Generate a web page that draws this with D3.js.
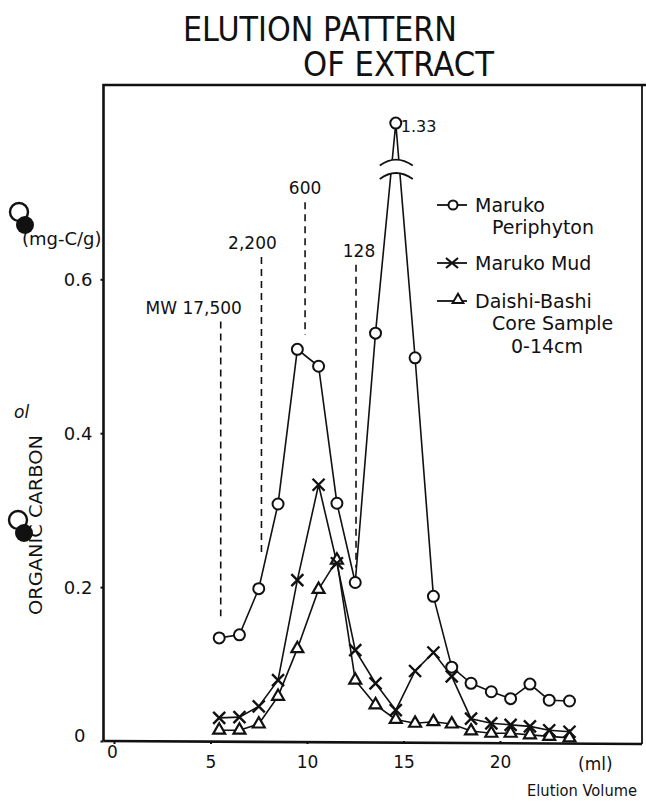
<!DOCTYPE html>
<html><head><meta charset="utf-8">
<script src="https://cdn.jsdelivr.net/npm/d3@7"></script>
<style>
body{margin:0;background:#fff}
svg{display:block;background:#fff}
text{font-family:"DejaVu Sans","Liberation Sans",sans-serif;fill:#111}
</style>
</head><body>
<svg id="chart" width="646" height="805"></svg>
<script>
// ---- data ----
const volumes    = [5.45, 6.5, 7.5, 8.5, 9.5, 10.6, 11.55, 12.5, 13.55, 14.6, 15.6, 16.55, 17.5, 18.5, 19.55, 20.55, 21.55, 22.55, 23.6];
const periphyton = [0.134,0.138,0.198,0.308,0.509,0.487,0.309,0.206,0.530,1.33,0.498,0.188,0.096,0.075,0.064,0.055,0.074,0.053,0.052];
const mud        = [0.030,0.031,0.045,0.079,0.209,0.333,0.231,0.118,0.075,0.040,0.091,0.115,0.084,0.029,0.023,0.021,0.019,0.014,0.012];
const daishi     = [0.014,0.014,0.022,0.058,0.120,0.197,0.235,0.079,0.047,0.028,0.023,0.025,0.022,0.013,0.010,0.010,0.008,0.006,0.004];
const xTicks = [0, 5, 10, 15, 20];
const yTicks = [0, 0.2, 0.4, 0.6];
const yTickLabels = ["0", "0.2", "0.4", "0.6"];
const mwLabels  = ["MW 17,500", "2,200", "600", "128"];
const mwVolumes = [5.53, 7.64, 9.9, 12.54];
const mwTop     = [0.545, 0.629, 0.700, 0.619];
const mwBottom  = [0.162, 0.244, 0.528, 0.225];
const seriesNames = [["Maruko", "Periphyton"], ["Maruko Mud"], ["Daishi-Bashi", "Core Sample", "0-14cm"]];
const peakLabel = "1.33";

// ---- scales ----
const svg = d3.select("#chart");
const x = d3.scaleLinear().domain([0, 20]).range([114, 500]);
const yBase = d3.scaleLinear().domain([0, 0.6]).range([741, 279.3]);
const BREAK_LO = 0.733, BREAK_HI = 1.28, GAP = 0.02;
const y = d3.scaleLinear()
  .domain([0, BREAK_LO, BREAK_HI, 1.5])
  .range([yBase(0), yBase(BREAK_LO), yBase(BREAK_LO + GAP), yBase(BREAK_LO + GAP + 1.5 - BREAK_HI)]);

// ---- title ----
svg.append("text").attr("x", 183).attr("y", 41).attr("font-size", 33)
  .attr("textLength", 274).attr("lengthAdjust", "spacingAndGlyphs").text("ELUTION  PATTERN");
svg.append("text").attr("x", 303).attr("y", 76).attr("font-size", 33)
  .attr("textLength", 191).attr("lengthAdjust", "spacingAndGlyphs").text("OF  EXTRACT");

// ---- frame ----
const L = 103.5, T = 85, R = 642, B = 741;
svg.append("path").attr("d", `M${L},${B} L${L},${T} L646,${T}`).attr("fill", "none").attr("stroke", "#111").attr("stroke-width", 2.6);
svg.append("path").attr("d", `M${R},${T} L${R},${B+3}`).attr("fill", "none").attr("stroke", "#111").attr("stroke-width", 1.8);
svg.append("path").attr("d", `M${L},${B} L${R},${B+3}`).attr("fill", "none").attr("stroke", "#111").attr("stroke-width", 2.6);

// ---- axes ----
const yAxis = d3.axisLeft(yBase).tickValues(yTicks).tickSize(3).tickPadding(8)
  .tickFormat((d, i) => yTickLabels[i]);
const gy = svg.append("g").attr("transform", `translate(${L},0)`).call(yAxis);
gy.select(".domain").remove();
gy.selectAll("line").attr("stroke", "#111").attr("stroke-width", 2);
gy.selectAll("text").attr("font-size", 18).attr("font-family", "DejaVu Sans").attr("fill", "#111")
  .attr("dy", "0.36em");
gy.selectAll("text").filter(d => d === 0).attr("dx", -7).attr("dy", "0.05em");

const xAxis = d3.axisBottom(x).tickValues(xTicks).tickSize(3).tickPadding(12);
const gx = svg.append("g").attr("transform", `translate(0,${B})`).call(xAxis);
gx.select(".domain").remove();
gx.selectAll("line").attr("stroke", "#111").attr("stroke-width", 2);
gx.selectAll("text").attr("font-size", 17).attr("font-family", "DejaVu Sans").attr("fill", "#111");
gx.selectAll("text").filter(d => d === 0).attr("dx", -2).attr("dy", "0.1em");

svg.append("text").attr("x", 578).attr("y", 770).attr("font-size", 17).text("(ml)");
svg.append("text").attr("x", 527).attr("y", 796).attr("font-size", 16)
  .attr("textLength", 110).attr("lengthAdjust", "spacingAndGlyphs").text("Elution Volume");

// y label
svg.append("text").attr("transform", "translate(42,525) rotate(-90)").attr("text-anchor", "middle")
  .attr("font-size", 18).attr("textLength", 180).attr("lengthAdjust", "spacingAndGlyphs").text("ORGANIC CARBON");
svg.append("text").attr("x", 22).attr("y", 245).attr("font-size", 18).text("(mg-C/g)");
svg.append("text").attr("x", 14).attr("y", 418).attr("font-size", 17).attr("font-style", "italic").attr("fill", "#333").text("ol");

// punch-hole marks of the scanned page
[[19, 212, 25, 225], [18, 520, 24, 533]].forEach(p => {
  svg.append("circle").attr("cx", p[0]).attr("cy", p[1]).attr("r", 9).attr("fill", "none").attr("stroke", "#111").attr("stroke-width", 2.4);
  svg.append("circle").attr("cx", p[2]).attr("cy", p[3]).attr("r", 9).attr("fill", "#111");
});

// ---- MW dashed markers ----
const mwDx = [-27, -9, 0, 3];
mwLabels.forEach((lab, i) => {
  const xx = x(mwVolumes[i]);
  svg.append("line").attr("x1", xx).attr("x2", xx).attr("y1", yBase(mwTop[i])).attr("y2", yBase(mwBottom[i]))
    .attr("stroke", "#111").attr("stroke-width", 1.6).attr("stroke-dasharray", "7,5");
  svg.append("text").attr("x", xx + mwDx[i]).attr("y", yBase(mwTop[i]) - 8).attr("text-anchor", "middle")
    .attr("font-size", 17).text(lab);
});

// ---- lines ----
const line = d3.line().x((d, i) => x(volumes[i])).y(d => y(d));
[daishi, mud, periphyton].forEach(s => {
  svg.append("path").datum(s).attr("d", line).attr("fill", "none").attr("stroke", "#111").attr("stroke-width", 1.6);
});

// axis break symbol over the periphyton peak
const bx = x(14.6);
const yU = y(BREAK_HI) , yLo = y(BREAK_LO);
const brk = svg.append("g");
brk.append("path").attr("d",
  `M${bx-16},${yU+4} Q${bx},${yU-8} ${bx+17},${yU+4} L${bx+17},${yLo+2} Q${bx},${yLo-10} ${bx-16},${yLo+2} Z`)
  .attr("fill", "#fff").attr("stroke", "none");
brk.append("path").attr("d", `M${bx-16},${yU+4} Q${bx},${yU-8} ${bx+17},${yU+4}`).attr("fill", "none").attr("stroke", "#111").attr("stroke-width", 1.8);
brk.append("path").attr("d", `M${bx-16},${yLo+2} Q${bx},${yLo-10} ${bx+17},${yLo+2}`).attr("fill", "none").attr("stroke", "#111").attr("stroke-width", 1.8);

// ---- markers ----
const tri = d3.symbol().type(d3.symbolTriangle).size(62);
svg.append("g").selectAll("path").data(daishi).join("path")
  .attr("transform", (d, i) => `translate(${x(volumes[i])},${y(d)})`)
  .attr("d", tri).attr("fill", "#fff").attr("stroke", "#111").attr("stroke-width", 2.2);
const cr = 6;
svg.append("g").selectAll("path").data(mud).join("path")
  .attr("transform", (d, i) => `translate(${x(volumes[i])},${y(d)})`)
  .attr("d", `M${-cr},${-cr}L${cr},${cr}M${-cr},${cr}L${cr},${-cr}`)
  .attr("fill", "none").attr("stroke", "#111").attr("stroke-width", 2.4);
svg.append("g").selectAll("circle").data(periphyton).join("circle")
  .attr("cx", (d, i) => x(volumes[i])).attr("cy", d => y(d)).attr("r", 5.5)
  .attr("fill", "#fff").attr("stroke", "#111").attr("stroke-width", 2);

svg.append("text").attr("x", x(14.6) + 5).attr("y", y(1.33) + 9).attr("font-size", 16).text(peakLabel);

// ---- legend ----
const lg = svg.append("g");
const legY = [205, 263, 301];
const legDy = 22.5;
legY.forEach((ly, k) => {
  lg.append("line").attr("x1", 437).attr("x2", 467).attr("y1", ly).attr("y2", ly).attr("stroke", "#111").attr("stroke-width", 1.8);
  seriesNames[k].forEach((t, j) => {
    lg.append("text").attr("x", j === 0 ? 475 : (j === 1 ? 492 : 511)).attr("y", ly + 6.5 + j * legDy)
      .attr("font-size", 19).text(t);
  });
});
lg.append("circle").attr("cx", 453).attr("cy", legY[0]).attr("r", 4.5).attr("fill", "#fff").attr("stroke", "#111").attr("stroke-width", 2);
lg.append("path").attr("transform", `translate(452,${legY[1]})`).attr("d", "M-6,-5L6,5M-6,5L6,-5").attr("stroke", "#111").attr("stroke-width", 2.2);
lg.append("path").attr("transform", `translate(458,${legY[2]-1})`).attr("d", d3.symbol().type(d3.symbolTriangle).size(50)).attr("fill", "#fff").attr("stroke", "#111").attr("stroke-width", 2);
</script>
</body></html>
